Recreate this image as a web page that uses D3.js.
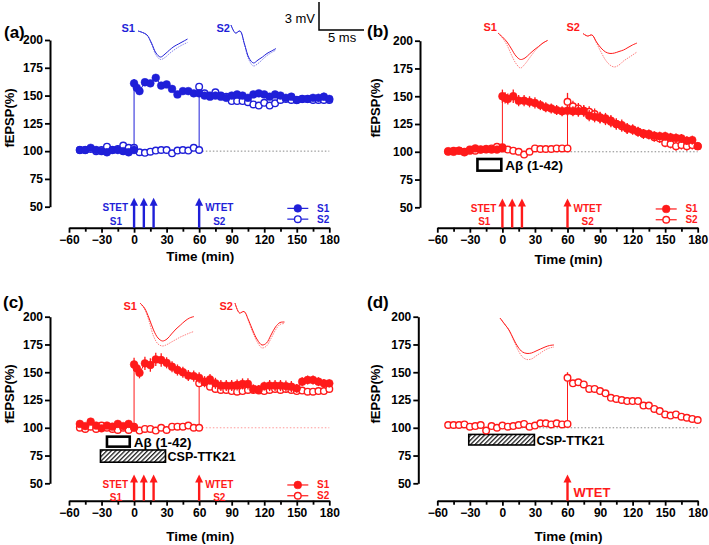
<!DOCTYPE html>
<html><head><meta charset="utf-8">
<script src="https://cdn.jsdelivr.net/npm/d3@7"></script>
<style>
body{margin:0;background:#fff;}
svg text{font-family:"Liberation Sans",Arial,sans-serif;}
</style></head><body>
<svg id="chart" width="709" height="545"></svg>
<script>
// ---------------- DATA ----------------
const Y_TICKS = [50, 75, 100, 125, 150, 175, 200];
const X_TICKS = [-60, -30, 0, 30, 60, 90, 120, 150, 180];
const X_MINOR = [-45, -15, 15, 45, 75, 105, 135, 165];

// times (min) for S1 series (baseline, then post-STET) and S2 series (baseline, then post-WTET)
const T_S1 = [-50,-45,-40,-35,-30,-25,-20,-15,-10,-5,0,
  0,2.5,5,10,15,20,25,30,35,40,45,50,55,60,
  65,70,75,80,85,90,95,100,105,110,115,120,
  125,130,135,140,145,150,155,160,165,170,175,180];
const T_S2 = [-50,-45,-40,-35,-30,-25,-20,-15,-10,-5,0,5,10,15,20,25,30,35,40,45,50,55,60,
  60,65,70,75,80,85,90,95,100,105,110,115,120,125,130,135,140,145,150,155,160,165,170,175,180];

// Panel (a)
const A_S1 = [101,101,103,101,100,99,101,101,100,99,101,
  161,157,154,162,161,166,159,160,156,151,154,154,152,152,
  150,149,150,149,148,150,151,150,148,151,152,151,
  149,151,150,148,149,146,147,147,148,148,149,147];
const A_S1_ERR = [1.5,1.5,1.5,1.5,1.5,1.5,1.5,1.5,1.5,1.5,1.5,
  4,3,3,3,3,3.5,3,3,2.5,2.5,2.5,2,2,2,
  2,2,2,2,2,2,2,2,2,2,2,2,
  2.5,2.5,2.5,3,3,3,3,3,3,3.5,3.5,3];
const A_S2 = [101,101,102,100,101,104,101,102,105,103,103,99,98.5,99.5,100.5,101,101,98,100.5,101,100.5,103,101,
  158,152,150,153,150,149,145,145,145,144,142,141,143.5,141,143,146,147,146,146,147,147,146,146,146,146];
const A_S2_ERR = [1.5,1.5,1.5,1.5,1.5,1.5,1.5,1.5,1.5,1.5,1.5,1.5,1.5,1.5,1.5,1.5,1.5,1.5,1.5,1.5,1.5,1.5,1.5,
  3,3,2.5,2.5,2.5,2.5,3,3,3,3,3,3,3,3,3,3,3,3.5,3.5,3.5,3.5,3.5,3.5,3.5,3.5];

// Panel (b)
const B_S1 = [100.5,100,101,99.5,101,103,102,102.5,102,102,103,
  150,148.5,147.5,150,146,146,145,144,142,140,139,137.5,136.5,137,
  136.5,136.5,136.5,132.5,131.5,130.5,130,128,125,124,121,120,
  118,116.5,116,114.5,114,114,113,112.5,112,110,110.5,105];
const B_S1_ERR = [1.5,1.5,1.5,1.5,1.5,1.5,1.5,1.5,1.5,1.5,1.5,
  6,5,5,6,5,5,5,5,4.5,4.5,4.5,4.5,4.5,4.5,
  4.5,5,5,5,5,5,5,5,5,5,4.5,4.5,
  4,4,4,4,4,4,4,4,4,4,4,3];
const B_S2 = [100,101,101,100,102,101,102,102,103,104.5,104,102,101,100,97.5,100,103,102.5,102.5,102.5,103,103,103,
  145,141,139,137,136,134,131,129,127,125,123,121,120,118,116,115,113,112,108,107,105,106,105,106,105];
const B_S2_ERR = [2,2,2,2,2,2,2,2,2,2,2,2,2,2,2,2,2,2,2,2,2,2,2,
  8,5,5,5,5,5,5,5,5,5,5,5,4.5,4.5,4.5,4,4,4,4,4,4,4,4,4,3.5];

// Panel (c)
const C_S1 = [103.5,101.5,105.5,102,99.5,102,101,103.5,101.5,103.5,100,
  157,153.5,149.5,158,156.5,161.5,161,158.5,155,152,150,147,146.5,145,
  141.5,143.5,140,138,138,138,138.5,139.5,139.5,135,134.5,137.5,
  138,138,138,137.5,137,135.5,141.5,143,143,141.5,140,140];
const C_S1_ERR = [1.5,1.5,1.5,1.5,1.5,1.5,1.5,1.5,1.5,1.5,1.5,
  6,5,5,6,6,6,6,5,5,5,5,5,5,5,
  5,5,5,5,5,5,5,5,5,4,4,4,
  5,5,5,5,5,4,4,4,4,4,4,3.5];
const C_S2 = [100,99,101,99,102,100,99,98,100,98,101,97.5,99,99,97.5,100,98,101,101,101,102,100,100,
  140,141,137,135,134,134,133,132.5,133,134,134,133.5,133,134,135,134,135,134,133,133.5,132.5,132.5,133,133,135];
const C_S2_ERR = [1.5,1.5,1.5,1.5,1.5,1.5,1.5,1.5,1.5,1.5,1.5,1.5,1.5,1.5,1.5,1.5,1.5,1.5,1.5,1.5,1.5,1.5,1.5,
  3,3,3,3,3,3,3,3,3,3,3,3,3,3,3,3,3,3,3,3,3,3,3,3,3];

// Panel (d)
const D_S2 = [102.5,102.5,102.5,103,101,101.5,102.5,97.5,101.5,100,102,101,101.5,102.5,103.5,101,102,104,104,103,104,103,103.5,
  145,140,141,139,135,135,133,131,127,126,125,124,124,124,120,120,117,115,112,111,112,110,109,108,107];
const D_S2_ERR = [1.5,1.5,1.5,1.5,1.5,1.5,1.5,3,1.5,1.5,1.5,1.5,1.5,1.5,1.5,1.5,1.5,1.5,1.5,1.5,1.5,1.5,1.5,
  5,3,3,3,3,3,3,3,2.5,2.5,2.5,2.5,2.5,2.5,2.5,2.5,2.5,2.5,2.5,2.5,2.5,2.5,2.5,2.5,2.5];

// stimulation times (min)
const STET_TIMES = [0, 9, 18];
const WTET_TIMES = [60];

// drug application windows (min)
const ABETA_B = [-23, -1];
const ABETA_C = [-25, -4];
const CSP_C = [-31, 29];
const CSP_D = [-31, 29.5];

// fEPSP traces, mV relative to start, sampled every 0.5 ms
const TR_A_S1_BASE = [0,-0.16,-0.43,-1.29,-2.36,-2.79,-2.47,-2.04,-1.66,-1.39,-1.13,-0.86];
const TR_A_S1_POST = [0,-0.16,-0.43,-1.39,-2.57,-3.05,-2.84,-2.41,-2.04,-1.72,-1.45,-1.23];
const TR_A_S2_BASE = [0,-0.86,-0.64,-2.04,-3.54,-4.07,-3.75,-3.43,-3.05,-2.79,-2.52];
const TR_A_S2_POST = [0,-0.86,-0.64,-2.14,-3.75,-4.39,-4.13,-3.7,-3.27,-2.95,-2.68];
const TR_B_S1_BASE = [0,-0.43,-0.96,-1.71,-2.47,-2.84,-2.68,-2.25,-1.82,-1.45,-1.07,-0.8];
const TR_B_S1_POST = [0,-0.54,-1.29,-2.36,-3.27,-3.75,-3.32,-2.68,-2.04,-1.5,-1.07,-0.8];
const TR_B_S2_BASE = [0,-0.27,-0.16,-0.91,-1.55,-1.98,-2.14,-2.09,-1.93,-1.77,-1.5,-1.23,-1.02];
const TR_B_S2_POST = [0,-0.27,-0.16,-1.02,-1.98,-2.84,-3.38,-3.59,-3.38,-2.95,-2.63,-2.31,-1.98];
const TR_C_S1_BASE = [0,-0.54,-1.61,-2.89,-3.75,-4.07,-3.86,-3.32,-2.79,-2.36,-1.93,-1.61,-1.45];
const TR_C_S1_POST = [0,-0.64,-1.93,-3.54,-4.39,-4.61,-4.45,-4.18,-3.91,-3.64,-3.43,-3.22,-3.05];
const TR_C_S2_BASE = [0,-1.07,-0.91,-1.82,-3.0,-3.97,-4.5,-4.29,-3.43,-2.57,-2.09,-2.04];
const TR_C_S2_POST = [0,-1.07,-0.91,-1.93,-3.22,-4.23,-4.82,-4.61,-3.81,-2.89,-2.3,-2.2];
const TR_D_BASE = [0,-0.64,-1.29,-2.25,-3.11,-3.64,-3.8,-3.75,-3.54,-3.32,-3.11,-2.95,-2.89];
const TR_D_POST = [0,-0.64,-1.29,-2.36,-3.43,-4.18,-4.45,-4.39,-4.07,-3.75,-3.43,-3.22,-3.11];
const TRACE_DT = 0.5;

// ---------------- DRAWING ----------------
const BLUE = '#1f1fd8';
const RED = '#ff1a1a';
const FONT = '"Liberation Sans",Arial,sans-serif';
const svg = d3.select('#chart');

const defs = svg.append('defs');
const pat = defs.append('pattern').attr('id','hatch').attr('patternUnits','userSpaceOnUse')
  .attr('width',3.2).attr('height',3.2).attr('patternTransform','rotate(45)');
pat.append('rect').attr('width',3.2).attr('height',3.2).attr('fill','#fff');
pat.append('line').attr('x1',0).attr('y1',0).attr('x2',0).attr('y2',3.2)
  .attr('stroke','#222').attr('stroke-width',2.6);

// trace scale (px per ms, px per mV)
const PX_MS = 9, PX_MV = 9.33;

const panels = [
  {label:'(a)', labelX:4, labelY:38, color:BLUE, refColor:'#888',
   yAxisX:50, x0:69, x1:329.3, y200:40, y50:206.7, xAxisY:227.7,
   yTitleX:14, yTitleY:118, xTitleY:261,
   series:[{t:T_S2, v:A_S2, e:A_S2_ERR, open:true},{t:T_S1, v:A_S1, e:A_S1_ERR, open:false}],
   stet:true, legend:true,
   insets:[{lab:'S1', lx:135, ly:32, ox:138, oy:31, base:TR_A_S1_BASE, post:TR_A_S1_POST},
           {lab:'S2', lx:230, ly:32, ox:231, oy:25, base:TR_A_S2_BASE, post:TR_A_S2_POST}],
   boxes:[]},
  {label:'(b)', labelX:367, labelY:37, color:RED, refColor:'#888',
   yAxisX:420, x0:437.3, x1:697.7, y200:40.7, y50:207.3, xAxisY:227.7,
   yTitleX:380, yTitleY:108, xTitleY:264,
   series:[{t:T_S2, v:B_S2, e:B_S2_ERR, open:true},{t:T_S1, v:B_S1, e:B_S1_ERR, open:false}],
   stet:true, legend:true,
   insets:[{lab:'S1', lx:497, ly:31, ox:498, oy:33, base:TR_B_S1_BASE, post:TR_B_S1_POST},
           {lab:'S2', lx:580, ly:31, ox:583, oy:33.5, base:TR_B_S2_BASE, post:TR_B_S2_POST}],
   boxes:[{range:ABETA_B, top:93.5, bottom:83, hatch:false, text:'Aβ (1-42)'}]},
  {label:'(c)', labelX:3, labelY:308, color:RED, refColor:'#f99',
   yAxisX:50, x0:69, x1:329.3, y200:316.7, y50:483.3, xAxisY:500.7,
   yTitleX:14, yTitleY:394, xTitleY:541,
   series:[{t:T_S2, v:C_S2, e:C_S2_ERR, open:true},{t:T_S1, v:C_S1, e:C_S1_ERR, open:false}],
   stet:true, legend:true,
   insets:[{lab:'S1', lx:137, ly:310, ox:140, oy:303, base:TR_C_S1_BASE, post:TR_C_S1_POST},
           {lab:'S2', lx:233, ly:310, ox:235, oy:303, base:TR_C_S2_BASE, post:TR_C_S2_POST}],
   boxes:[{range:ABETA_C, top:92, bottom:83, hatch:false, text:'Aβ (1-42)'},
          {range:CSP_C, top:80, bottom:69, hatch:true, text:'CSP-TTK21'}]},
  {label:'(d)', labelX:367, labelY:308, color:RED, refColor:'#888',
   yAxisX:418.3, x0:437.3, x1:697.7, y200:316.7, y50:483.3, xAxisY:500.7,
   yTitleX:380, yTitleY:394, xTitleY:541,
   series:[{t:T_S2, v:D_S2, e:D_S2_ERR, open:true}],
   stet:false, legend:false,
   insets:[{lab:'', lx:0, ly:0, ox:500, oy:318, base:TR_D_BASE, post:TR_D_POST}],
   boxes:[{range:CSP_D, top:94, bottom:84.5, hatch:true, text:'CSP-TTK21'}]}
];

function arrow(g, x, yBottom, yTip, color) {
  g.append('line').attr('x1',x).attr('x2',x).attr('y1',yBottom).attr('y2',yTip+6)
    .attr('stroke',color).attr('stroke-width',2.4);
  g.append('path').attr('d',`M${x},${yTip} L${x-4},${yTip+8} L${x+4},${yTip+8} Z`).attr('fill',color);
}

panels.forEach(p => {
  const g = svg.append('g');
  const x = d3.scaleLinear().domain([-60,180]).range([p.x0,p.x1]);
  const y = d3.scaleLinear().domain([50,200]).range([p.y50,p.y200]);
  const c = p.color;

  // axes
  const ya = g.append('g').attr('transform',`translate(${p.yAxisX},0)`)
    .call(d3.axisLeft(y).tickValues(Y_TICKS).tickSize(5).tickSizeOuter(0).tickPadding(2));
  const xa = g.append('g').attr('transform',`translate(0,${p.xAxisY})`)
    .call(d3.axisBottom(x).tickValues(X_TICKS).tickSize(5).tickSizeOuter(0).tickPadding(3));
  const xm = g.append('g').attr('transform',`translate(0,${p.xAxisY})`)
    .call(d3.axisBottom(x).tickValues(X_MINOR).tickSize(4).tickFormat(''));
  xm.select('.domain').remove();
  [ya,xa,xm].forEach(a => {
    a.selectAll('.domain').attr('stroke','#000').attr('stroke-width',2);
    a.selectAll('.tick line').attr('stroke','#000').attr('stroke-width',1.8);
    a.selectAll('.tick text').attr('fill','#000').style('font-family',FONT)
      .style('font-weight','bold').style('font-size','12px');
  });

  // titles
  g.append('text').attr('transform',`translate(${p.yTitleX},${p.yTitleY}) rotate(-90)`)
    .attr('text-anchor','middle').style('font-weight','bold').style('font-size','13px').text('fEPSP(%)');
  g.append('text').attr('x',(p.x0+p.x1)/2 + 1).attr('y',p.xTitleY).attr('text-anchor','middle')
    .style('font-weight','bold').style('font-size','13.5px').text('Time (min)');
  g.append('text').attr('x',p.labelX).attr('y',p.labelY)
    .style('font-weight','bold').style('font-size','17px').text(p.label);

  // reference line at 100%
  g.append('line').attr('x1',x(-50)).attr('x2',x(180)).attr('y1',y(100)).attr('y2',y(100))
    .attr('stroke',p.refColor).attr('stroke-width',1).attr('stroke-dasharray','1.5,2');

  // boxes
  p.boxes.forEach(b => {
    g.append('rect').attr('x',x(b.range[0])).attr('y',y(b.top))
      .attr('width',x(b.range[1])-x(b.range[0])).attr('height',y(b.bottom)-y(b.top))
      .attr('fill',b.hatch?'url(#hatch)':'#fff').attr('stroke','#000').attr('stroke-width',b.hatch?1.6:2.6);
    g.append('text').attr('x',x(b.range[1])+ (b.hatch?2:4)).attr('y',(y(b.top)+y(b.bottom))/2+5)
      .style('font-weight','bold').style('font-size',b.hatch?'12.5px':'13.5px').text(b.text);
  });

  // series
  p.series.forEach(s => {
    const pts = s.t.map((t,i) => ({t, v:s.v[i], e:s.e[i]||0})).filter(d => d.v !== undefined);
    g.append('path').datum(pts)
      .attr('d', d3.line().x(d=>x(d.t)).y(d=>y(d.v)))
      .attr('fill','none').attr('stroke',c).attr('stroke-width',1);
    g.selectAll(null).data(pts).enter().append('line')
      .attr('x1',d=>x(d.t)).attr('x2',d=>x(d.t))
      .attr('y1',d=>y(d.v-d.e)).attr('y2',d=>y(d.v+d.e))
      .attr('stroke',c).attr('stroke-width',1.3);
    g.selectAll(null).data(pts).enter().append('circle')
      .attr('cx',d=>x(d.t)).attr('cy',d=>y(d.v))
      .attr('r', s.open?3.3:3.9)
      .attr('fill', s.open?'#fff':c).attr('stroke',c).attr('stroke-width', s.open?1.4:0.5);
  });

  // stimulation arrows & labels
  const tipY = y(58);
  if (p.stet) {
    STET_TIMES.forEach(t => arrow(g, x(t), p.xAxisY, tipY, c));
    WTET_TIMES.forEach(t => arrow(g, x(t), p.xAxisY, tipY, c));
    const lab = (txt, xx, yy, anchor) => g.append('text').attr('x',xx).attr('y',yy)
      .attr('text-anchor',anchor).attr('fill',c).style('font-weight','bold').style('font-size','10px').text(txt);
    lab('STET', x(0)-6, y(49.5)+4, 'end');
    lab('S1', x(0)-12, y(37.5)+4, 'end');
    lab('WTET', x(60)+6, y(49.5)+4, 'start');
    lab('S2', x(60)+14, y(37.5)+4, 'start');
  } else {
    WTET_TIMES.forEach(t => arrow(g, x(t), p.xAxisY, tipY, c));
    g.append('text').attr('x',x(60)+6).attr('y',y(37.5)).attr('fill',c)
      .style('font-weight','bold').style('font-size','13px').text('WTET');
  }

  // legend
  if (p.legend) {
    [{lab:'S1', open:false, v:48.5},{lab:'S2', open:true, v:38.8}].forEach(L => {
      const yy = y(L.v);
      g.append('line').attr('x1',p.x1-42).attr('x2',p.x1-21).attr('y1',yy).attr('y2',yy)
        .attr('stroke',c).attr('stroke-width',1.2);
      g.append('circle').attr('cx',p.x1-31.5).attr('cy',yy).attr('r',L.open?3.3:3.9)
        .attr('fill',L.open?'#fff':c).attr('stroke',c).attr('stroke-width',L.open?1.4:0.5);
      g.append('text').attr('x',p.x1).attr('y',yy+3.5).attr('text-anchor','end').attr('fill',c)
        .style('font-weight','bold').style('font-size','10px').text(L.lab);
    });
  }

  // inset fEPSP traces
  p.insets.forEach(ins => {
    const tl = d3.line().curve(d3.curveCatmullRom.alpha(0.5))
      .x((d,i)=>ins.ox + i*TRACE_DT*PX_MS).y(d=>ins.oy - d*PX_MV);
    g.append('path').attr('d',tl(ins.post)).attr('fill','none').attr('stroke',c)
      .attr('stroke-width',1).attr('stroke-opacity',0.55).attr('stroke-dasharray','1.5,1');
    g.append('path').attr('d',tl(ins.base)).attr('fill','none').attr('stroke',c)
      .attr('stroke-width',1);
    if (ins.lab) g.append('text').attr('x',ins.lx).attr('y',ins.ly).attr('text-anchor','end')
      .attr('fill',c).style('font-weight','bold').style('font-size','11px').text(ins.lab);
  });
});

// scale bar (3 mV / 5 ms)
const sb = svg.append('g');
const sbX = 319, sbY = 30;
sb.append('path').attr('d',`M${sbX},${sbY-3*PX_MV} L${sbX},${sbY} L${sbX+5*PX_MS},${sbY}`)
  .attr('fill','none').attr('stroke','#000').attr('stroke-width',1.5);
sb.append('text').attr('x',sbX-4).attr('y',22.5).attr('text-anchor','end')
  .style('font-size','13px').text('3 mV');
sb.append('text').attr('x',sbX+9).attr('y',41.5).style('font-size','13px').text('5 ms');
</script>
</body></html>
